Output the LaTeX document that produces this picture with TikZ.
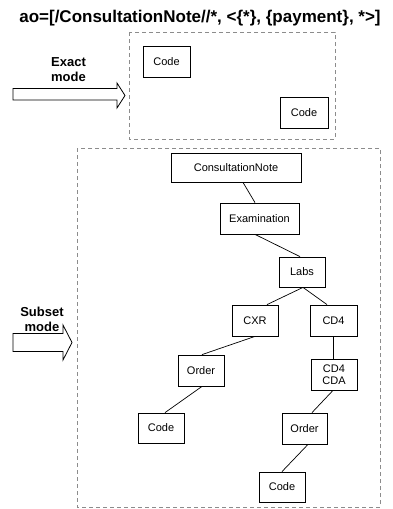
\documentclass[tikz,border=0pt]{standalone}
\usepackage{fontspec}
\setmainfont{Liberation Sans}
\begin{document}
\begin{tikzpicture}[x=1pt,y=-1pt,
  box/.style={draw=black,line width=0.8pt,fill=white,inner sep=0pt,align=center,
    font=\fontsize{11}{12.5}\selectfont},
  frame/.style={draw=gray!90,dashed,dash pattern=on 4pt off 3pt,line width=0.8pt},
  link/.style={draw=black,line width=0.7pt},
  blockarrow/.style={draw=black,line width=0.8pt,fill=white,line join=miter},
  modelabel/.style={align=center,font=\fontsize{13}{15}\selectfont\bfseries}]
\useasboundingbox (0,0) rectangle (392,509);
% title
\node[font=\fontsize{17}{18}\selectfont\bfseries] (title) at (200,18) {ao=[/ConsultationNote//*, <\{*\}, \{payment\}, *>]};
% exact mode
\draw[frame] (129,32) rectangle (335,139);
\node[box,minimum width=47pt,minimum height=31pt] (codeA) at (166.5,61.5) {Code};
\node[box,minimum width=48pt,minimum height=31pt] (codeB) at (304,112.5) {Code};
\node[modelabel] (exactlbl) at (68.5,69.5) {Exact\\mode};
\draw[blockarrow] (13,88.5) -- (117,88.5) -- (117,83) -- (125,95.5) -- (117,108) -- (117,100) -- (13,100) -- cycle;
% subset mode
\draw[frame] (77,148) rectangle (380,507);
\node[modelabel] (subsetlbl) at (42,319.5) {Subset\\mode};
\draw[blockarrow] (13,333.5) -- (63,333.5) -- (63,325) -- (72,342.5) -- (63,360) -- (63,351.5) -- (13,351.5) -- cycle;
\node[box,minimum width=130pt,minimum height=29pt] (cn) at (236,167.5) {ConsultationNote};
\node[box,minimum width=79pt,minimum height=31pt] (exam) at (259.5,218.5) {Examination};
\node[box,minimum width=46pt,minimum height=30pt] (labs) at (302,272) {Labs};
\node[box,minimum width=46pt,minimum height=31pt] (cxr) at (255,320.5) {CXR};
\node[box,minimum width=47pt,minimum height=31pt] (cd4) at (333.5,320.5) {CD4};
\node[box,minimum width=46pt,minimum height=31pt] (order1) at (201,370.5) {Order};
\node[box,minimum width=46pt,minimum height=31pt] (cdacda) at (334,374.5) {CD4\\CDA};
\node[box,minimum width=46pt,minimum height=30pt] (code3) at (161,428) {Code};
\node[box,minimum width=45pt,minimum height=31pt] (order2) at (304.5,428.5) {Order};
\node[box,minimum width=46pt,minimum height=30pt] (code4) at (282,487) {Code};
% connectors
\draw[link] ([xshift=7pt]cn.south) -- ([xshift=-4.5pt]exam.north);
\draw[link] ([xshift=-4.5pt]exam.south) -- ([xshift=-2pt]labs.north);
\draw[link] ([xshift=1pt]labs.south) -- ([xshift=12pt]cxr.north);
\draw[link] ([xshift=1pt]labs.south) -- ([xshift=-6.5pt]cd4.north);
\draw[link] (cxr.south) -- ([xshift=1pt]order1.north);
\draw[link] ([xshift=1pt]order1.south) -- ([xshift=4pt]code3.north);
\draw[link] (cd4.south) -- (cd4.south |- cdacda.north);
\draw[link] ([xshift=-1pt]cdacda.south) -- ([xshift=7.5pt]order2.north);
\draw[link] ([xshift=3.5pt]order2.south) -- (code4.north);
\end{tikzpicture}
\end{document}
